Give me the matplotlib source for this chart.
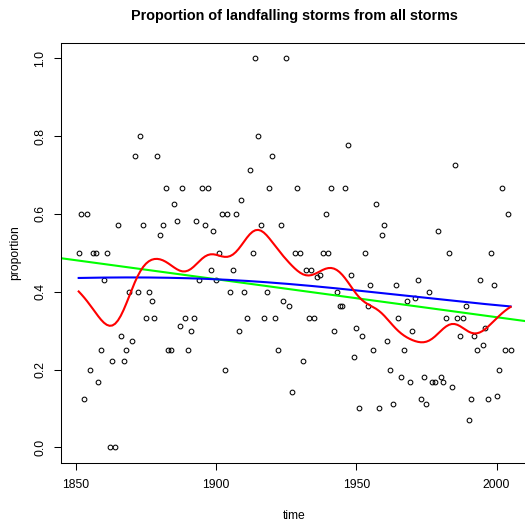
import numpy as np
import matplotlib
matplotlib.use("Agg")
import matplotlib.pyplot as plt

plt.rcParams["font.family"] = ["Liberation Sans", "DejaVu Sans"]

# Yearly proportion of storms that made landfall
years = np.arange(1851, 2006)
proportion = [
    0.5, 0.6, 0.125, 0.6, 0.2, 0.5, 0.5, 0.167, 0.25, 0.429,          # 1851-1860
    0.5, 0.0, 0.222, 0.0, 0.571, 0.286, 0.222, 0.25, 0.4, 0.273,      # 1861-1870
    0.75, 0.4, 0.8, 0.571, 0.333, 0.4, 0.375, 0.333, 0.75, 0.545,    # 1871-1880
    0.571, 0.667, 0.25, 0.25, 0.625, 0.583, 0.313, 0.667, 0.333, 0.25,  # 1881-1890
    0.3, 0.333, 0.583, 0.429, 0.667, 0.571, 0.667, 0.455, 0.556, 0.429,  # 1891-1900
    0.5, 0.6, 0.2, 0.6, 0.4, 0.455, 0.6, 0.3, 0.636, 0.4,             # 1901-1910
    0.333, 0.714, 0.5, 1.0, 0.8, 0.571, 0.333, 0.4, 0.667, 0.75,      # 1911-1920
    0.333, 0.25, 0.571, 0.375, 1.0, 0.364, 0.143, 0.5, 0.667, 0.5,    # 1921-1930
    0.222, 0.455, 0.333, 0.455, 0.333, 0.438, 0.444, 0.5, 0.6, 0.5,  # 1931-1940
    0.667, 0.3, 0.4, 0.364, 0.364, 0.667, 0.778, 0.444, 0.231, 0.308,  # 1941-1950
    0.1, 0.286, 0.5, 0.364, 0.417, 0.25, 0.625, 0.1, 0.545, 0.571,    # 1951-1960
    0.273, 0.2, 0.111, 0.417, 0.333, 0.182, 0.25, 0.375, 0.167, 0.3,  # 1961-1970
    0.385, 0.429, 0.125, 0.182, 0.111, 0.4, 0.167, 0.167, 0.556, 0.182,  # 1971-1980
    0.167, 0.333, 0.5, 0.154, 0.727, 0.333, 0.286, 0.333, 0.364, 0.07,  # 1981-1990
    0.125, 0.286, 0.25, 0.429, 0.263, 0.308, 0.125, 0.5, 0.417, 0.133,  # 1991-2000
    0.2, 0.667, 0.25, 0.6, 0.25,                                       # 2001-2005
]
xticks = [1850, 1900, 1950, 2000]
yticks = [0.0, 0.2, 0.4, 0.6, 0.8, 1.0]
title = "Proportion of landfalling storms from all storms"


def kernel_smooth(x, y, sd):
    """Nadaraya-Watson smoother with a Gaussian kernel (sd in years)."""
    x = np.asarray(x, float)
    y = np.asarray(y, float)
    w = np.exp(-0.5 * ((x[:, None] - x[None, :]) / sd) ** 2)
    return (w * y[None, :]).sum(axis=1) / w.sum(axis=1)


y = np.asarray(proportion)
slope, intercept = np.polyfit(years, y, 1)
smooth_wide = kernel_smooth(years, y, sd=55)
smooth_narrow = kernel_smooth(years, y, sd=5)

W, H = 525, 524
fig = plt.figure(figsize=(W / 100, H / 100), dpi=100)
left, right, top, bottom = 61.4, 527.9, 42.8, 462.9
ax = fig.add_axes([left / W, 1 - bottom / H, (right - left) / W, (bottom - top) / H])

ax.plot(years, y, linestyle="none", marker="o", markersize=3.4,
        markerfacecolor="none", markeredgecolor="black", markeredgewidth=0.75)
ax.axline((years[0], intercept + slope * years[0]), slope=slope,
          color="#00ff00", linewidth=1.5)
ax.plot(years, smooth_wide, color="#0000ff", linewidth=1.5)
ax.plot(years, smooth_narrow, color="#ff0000", linewidth=1.5)

span = years[-1] - years[0]
ax.set_xlim(years[0] - 0.04 * span, years[-1] + 0.04 * span)
ax.set_ylim(-0.04, 1.04)
ax.set_xticks(xticks)
ax.set_xticklabels([str(t) for t in xticks])
ax.set_yticks(yticks)
ax.set_yticklabels([f"{t:.1f}" for t in yticks], rotation=90, va="center")

for s in ax.spines.values():
    s.set_linewidth(0.75)
    s.set_color("black")
ax.tick_params(direction="out", length=5.2, width=0.75, labelsize=8.7,
               colors="black")
ax.tick_params(axis="x", pad=6.5)
ax.tick_params(axis="y", pad=5.5)

fig.text(294.7 / W, 1 - 20 / H, title, ha="center", va="baseline",
         fontsize=10.4, fontweight="bold")
fig.text(294 / W, 1 - 516 / H, "time", ha="center", va="center", fontsize=8.7)
fig.text(15 / W, 1 - 252.9 / H, "proportion", ha="center", va="center",
         rotation=90, fontsize=8.7)

fig.savefig("out.png", dpi=100)
